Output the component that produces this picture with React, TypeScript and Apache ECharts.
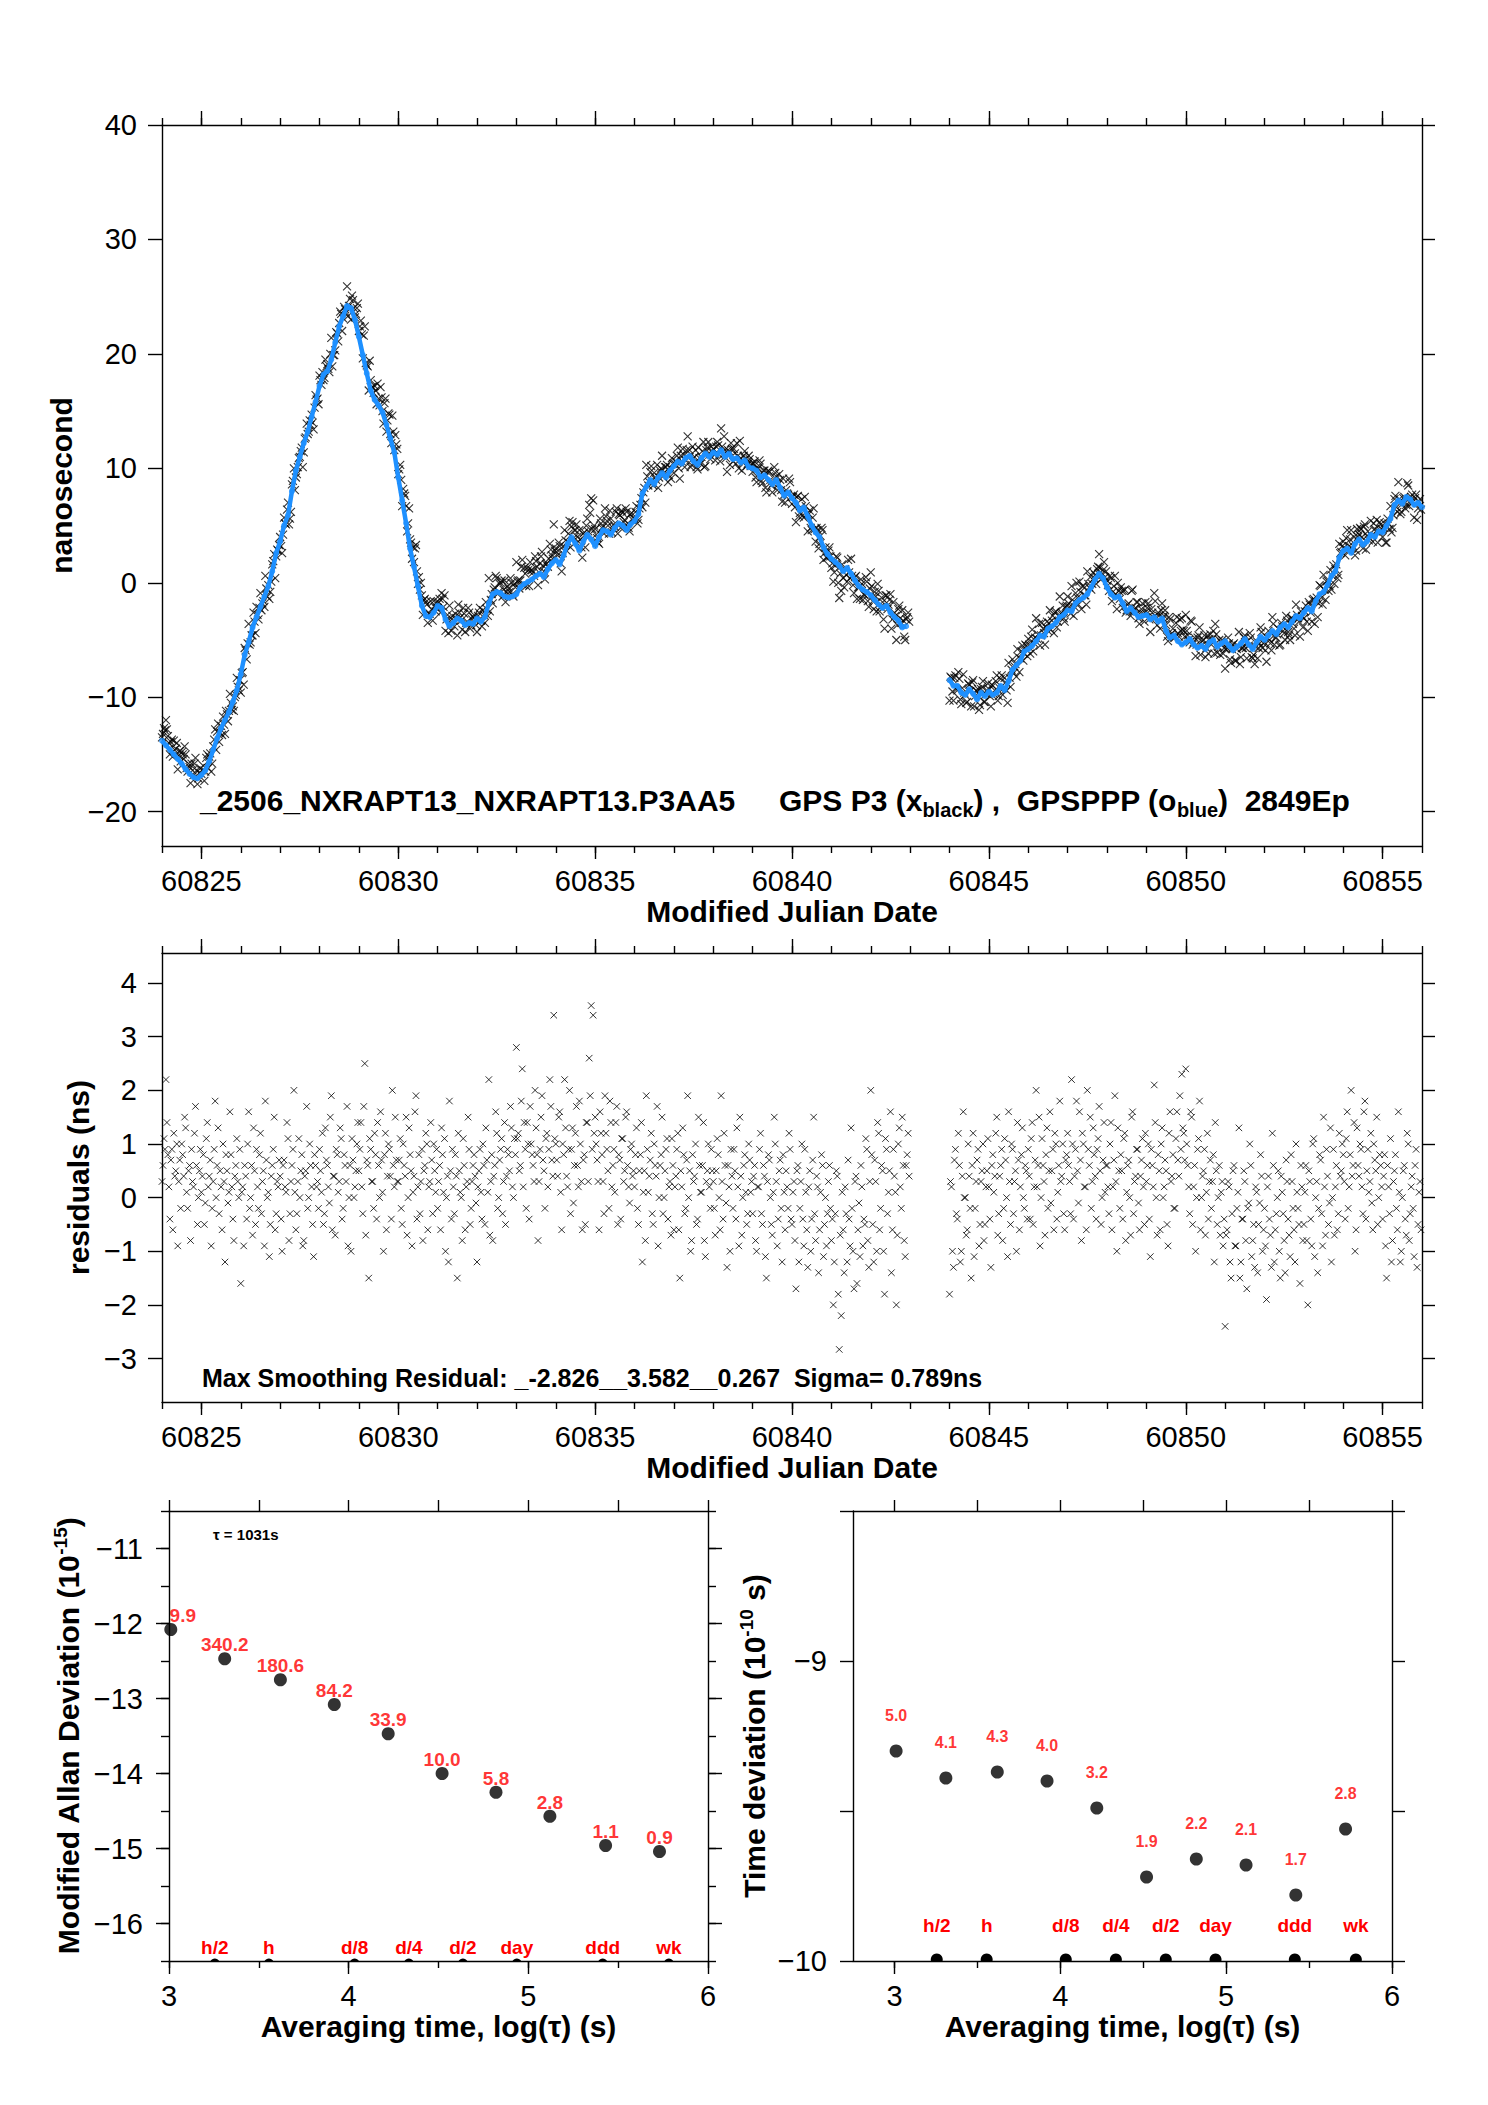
import React, { useEffect, useRef } from "react";
import * as echarts from "echarts";

const FONT = "'Liberation Sans', Arial, Helvetica, sans-serif";

// ---------------- DATA ----------------
const T0 = 60824.0;
const TRACE_STEP = 0.1; // days between GPSPPP samples
const RESID_STEP = 0.05; // days between P3 samples of one residual set
const RESID_B_SHIFT = 0.025; // second residual set sits half a step later

// GPSPPP (blue) time series, ns, one value every 0.1 day from MJD 60824.0
const BLUE_TRACE: (number | null)[] = [
  -13.8, -14.2, -14.6, -15.0, -15.4, -15.8, -16.3, -16.7, -17.0, -17.1,
  -16.8, -16.4, -15.6, -14.6, -13.6, -12.7, -12.0, -11.3, -10.4, -9.4,
  -8.0, -6.3, -5.2, -3.9, -3.0, -2.1, -1.2, -0.3, 1.0, 2.6,
  3.6, 5.0, 5.9, 8.0, 9.8, 11.0, 12.2, 13.2, 14.5, 15.8,
  17.2, 18.2, 18.5, 19.5, 21.0, 22.4, 23.3, 24.2, 24.0, 23.0,
  21.5, 19.9, 18.3, 16.8, 16.0, 15.5, 14.9, 13.8, 12.6, 11.4,
  9.2, 7.2, 5.2, 3.0, 1.4, -0.3, -2.0, -2.9, -3.0, -2.6,
  -2.0, -2.2, -3.2, -3.8, -3.5, -3.1, -3.3, -3.7, -3.5, -3.6,
  -3.1, -3.4, -3.0, -1.8, -1.0, -0.8, -0.9, -1.2, -1.3, -1.2,
  -1.0, -0.4, -0.1, 0.1, 0.3, 0.6, 0.8, 0.5, 1.2, 1.7,
  2.0, 1.6, 2.4, 3.4, 4.0, 3.4, 2.8, 3.6, 4.2, 3.8,
  3.2, 4.0, 4.6, 4.5, 4.2, 4.8, 5.2, 5.0, 4.6, 5.1,
  5.4, 6.0, 7.8, 8.4, 9.0, 8.6, 9.2, 9.6, 9.2, 9.8,
  10.2, 10.6, 10.4, 10.9, 11.1, 10.6, 10.3, 10.9, 11.3, 11.0,
  11.4, 11.2, 11.6, 11.0, 11.3, 10.8, 10.9, 10.5, 10.7, 10.1,
  10.0, 9.8, 9.2, 9.4, 9.0, 8.6, 9.0, 8.3, 7.6, 7.9,
  7.4, 7.0, 6.3, 6.6, 5.8, 5.0, 4.4, 4.0, 3.1, 2.5,
  2.1, 1.8, 1.5, 1.0, 1.3, 0.8, 0.2, -0.3, -0.6, -0.8,
  -1.1, -1.5, -1.9, -2.2, -2.0, -2.6, -3.0, -3.3, -3.9, -3.8,
  null, null, null, null, null, null, null, null, null, null,
  -8.5, -9.0, -9.0, -9.6, -9.8, -9.3, -9.7, -10.2, -9.6, -9.9,
  -9.5, -9.8, -9.6, -9.0, -9.4, -8.6, -7.6, -7.2, -6.8, -6.0,
  -5.8, -5.5, -5.1, -4.6, -4.7, -4.0, -3.8, -3.5, -3.0, -2.8,
  -2.4, -2.5, -1.8, -1.5, -1.3, -1.0, -0.4, 0.3, 0.8, 0.4,
  -0.4, -1.0, -1.3, -1.2, -1.8, -2.5, -2.2, -2.6, -3.0, -2.9,
  -2.8, -3.2, -3.0, -3.4, -3.1, -4.2, -4.8, -4.6, -5.1, -5.4,
  -5.2, -4.9, -5.4, -5.7, -5.5, -5.8, -5.2, -5.0, -5.6, -5.3,
  -5.1, -5.5, -5.9, -5.6, -5.3, -4.9, -5.4, -5.8, -5.2, -4.7,
  -5.0, -4.6, -4.2, -4.5, -3.9, -3.6, -3.9, -3.4, -2.9, -3.1,
  -2.6, -2.2, -2.5, -1.6, -1.0, -0.8, -0.2, 0.6, 1.0, 2.2,
  2.8, 3.0, 2.6, 3.4, 3.8, 3.3, 3.6, 4.2, 4.0, 4.5,
  4.4, 5.0, 5.6, 6.8, 7.2, 6.9, 7.5, 7.3, 6.8, 7.0,
  6.6,
];

// Smoothing residuals of GPS P3 (ns), set A: every 0.05 day from MJD 60824.0 (one row per day)
const RESIDUALS: (number | null)[] = [
  0.3, 1.1, 2.2, 0.8, -0.4, 0.9, 1.2, 0.5, -0.9, 0.7, 1.0, 0.4, 1.3, -0.2, 0.6, 0.9, 0.2, 1.7, -0.5, 0.5,
  0.1, 0.8, -0.1, 1.4, 0.4, -0.9, 0.3, 1.8, 0.6, -0.3, 0.2, 1.0, -1.2, 0.5, 0.1, 0.8, -0.4, 0.4, 1.1, 0.0,
  -1.6, 0.2, 0.6, -0.4, 1.6, 0.0, -0.7, 0.5, 0.9, -0.2, 1.2, 0.3, -0.9, 0.7, 0.1, -0.5, 0.6, 1.5, -0.3, 0.2,
  0.4, -1.0, 0.7, 0.1, 1.1, -0.3, 0.6, 2.0, -0.6, 0.3, 0.0, 0.8, -0.8, 0.5, -0.2, 1.0, 0.2, -1.1, 0.6, 0.3,
  0.9, 0.1, -0.5, 1.3, 0.6, -0.1, 1.9, 0.4, -0.7, 0.8, 0.3, 1.1, -0.2, 0.6, 1.7, 0.0, -1.0, 0.7, 0.2, 1.0,
  0.5, 1.4, -0.3, 2.5, 0.7, -1.5, 0.9, 0.3, 1.2, -0.4, 0.6, 1.6, 0.1, 0.8, -0.6, 1.0, 0.4, 2.0, 0.2, 0.7,
  0.3, 1.1, -0.5, 0.6, 1.5, 0.0, 0.8, -0.9, 0.4, 1.9, 0.2, -0.3, 0.9, 0.5, 1.2, -0.6, 0.3, 0.7, 1.0, 0.1,
  -0.2, 0.6, 1.3, 0.1, -1.0, 0.4, 1.8, -0.4, 0.2, 0.8, -1.5, 0.5, 0.0, 1.1, -0.6, 0.3, 0.9, -0.2, 0.6, 0.4,
  -1.2, 0.5, 0.1, 1.0, -0.5, 0.7, 2.2, 0.3, -0.8, 0.6, 1.2, 0.0, 0.9, -0.3, 1.4, 0.4, 0.8, 1.7, 0.2, 1.1,
  2.8, 1.2, 0.6, 2.4, 1.4, -0.2, 1.0, 1.7, 0.8, 0.3, 1.3, -0.8, 0.9, 1.9, 0.5, 1.1, 0.2, 2.2, 0.7, 3.4,
  1.0, 0.4, 1.6, -0.6, 0.8, 1.3, 0.2, 2.0, 0.9, -0.1, 1.2, 0.6, 1.8, 0.3, 0.7, -0.5, 1.4, 2.6, 3.58, 3.4,
  1.5, 0.7, -0.6, 1.2, 0.3, 1.9, 0.9, -0.2, 1.4, 0.6, 0.1, 1.7, 0.8, -0.4, 1.1, 0.5, 1.6, 0.2, 0.9, 0.4,
  0.2, 1.3, -0.5, 0.8, -1.2, 0.5, 1.9, 0.1, 0.7, -0.3, 1.0, 0.4, -0.9, 0.6, 1.5, 0.0, 0.9, -0.4, 0.3, 1.1,
  -0.6, 0.4, 1.2, -1.5, 0.2, 0.8, -0.2, 1.9, 0.5, -0.8, 0.3, 1.0, -0.4, 0.6, 0.1, 1.4, -1.1, 0.5, 0.2, 0.9,
  0.3, -0.7, 1.1, 0.0, 1.9, -0.4, 0.6, -1.3, 0.2, 0.9, -0.2, 0.5, 1.3, -0.9, 0.4, 0.0, 0.8, -0.5, 1.0, 0.1,
  -0.3, 0.6, -1.0, 0.2, 1.2, -0.5, 0.4, -1.5, 0.8, 0.0, -0.7, 1.5, 0.3, -0.4, 0.7, -1.2, 0.1, 0.5, -0.2, 0.9,
  -0.5, 0.3, -1.7, 0.6, -0.2, 1.0, -0.9, 0.1, -1.3, 0.5, -0.4, 1.5, -0.8, 0.2, -0.6, 0.8, -1.1, 0.0, -0.3, 0.6,
  -0.8, -2.0, -0.3, 0.4, -2.83, -2.2, -0.6, 0.2, -1.2, -0.4, 1.3, -1.0, 0.3, -1.6, -0.1, 0.6, -0.9, -0.5, 0.9, -1.3,
  2.0, -0.5, 0.7, -1.0, 1.2, -0.2, 0.5, -1.8, 0.9, 0.1, 1.6, -0.6, 0.4, -2.0, 1.0, 0.2, 1.5, -0.8, 0.6, 1.2,
  null, null, null, null, null, null, null, null, null, null, null, null, null, null, null, null, null, null, null, null,
  -1.8, 0.2, -1.3, 0.9, -0.4, 0.6, -1.0, 1.6, 0.0, -0.6, 0.4, -1.5, 1.2, -0.2, 0.7, -0.9, 0.3, 1.0, -0.5, 0.5,
  0.2, -1.3, 0.8, 0.4, 1.5, -0.3, 0.6, -0.8, 1.1, 0.0, 1.6, -0.5, 0.9, 0.3, -1.0, 0.7, 0.2, 1.3, -0.2, 0.5,
  0.9, -0.4, 1.4, 0.2, 2.0, 0.6, -0.9, 1.1, 0.3, 0.8, -0.2, 1.6, 0.5, -0.6, 1.0, 0.1, 1.8, 0.4, -0.3, 0.7,
  1.2, 0.3, 2.2, -0.4, 0.9, 0.5, 1.6, -0.8, 1.0, 0.2, 2.0, 0.6, -0.2, 1.3, 0.4, 0.9, 1.7, -0.5, 0.7, 0.1,
  0.6, -0.3, 1.4, 0.2, 1.9, -1.0, 0.5, 0.8, -0.4, 1.2, 0.1, 0.7, -0.7, 1.6, 0.3, 0.9, -0.1, 0.4, 1.1, -0.5,
  0.3, 1.0, -1.1, 0.6, 2.1, 0.0, 0.8, -0.6, 1.3, 0.2, 0.5, -0.9, 1.6, 0.4, -0.2, 1.1, 0.7, 1.9, 2.3, 1.2,
  2.4, 0.6, -0.3, 1.5, 0.2, -1.0, 0.9, 1.8, 0.0, 0.5, -0.7, 1.2, 0.3, -0.2, 0.8, 1.4, -0.5, 0.6, 0.1, -0.9,
  -2.4, -0.6, 0.2, -1.5, 0.5, -0.9, -0.2, 1.3, -1.2, -0.4, 0.3, -1.7, -0.1, 0.6, -0.8, -1.3, 0.1, -0.5, 0.8, -1.0,
  -0.2, -1.9, 0.4, -0.7, 1.2, -1.2, -0.3, 0.5, -1.5, 0.1, -0.8, 0.7, -0.4, -1.1, 0.3, -0.6, 1.0, -0.2, -1.6, 0.2,
  -0.5, 0.6, -2.0, 0.3, -0.9, 1.1, 0.0, -1.4, 0.8, -0.3, 1.5, -0.7, 0.4, -0.1, -1.2, 0.9, 0.2, -0.6, 1.2, 0.5,
  0.8, -0.4, 1.6, 0.2, 2.0, 0.6, -1.0, 1.3, 0.4, 0.9, -0.3, 1.8, 0.5, 0.1, 1.2, -0.6, 0.7, 1.5, 0.0, 0.6,
  -0.4, 0.8, -1.5, 0.2, 1.1, -0.8, 0.5, -0.2, 1.6, -1.2, 0.0, 0.6, -0.7, 1.0, -0.3, 0.4, -1.1, 0.9, -0.5, 0.3,
];

// Set B: every 0.05 day from MJD 60824.025 (one row per day)
const RESIDUALS_B: (number | null)[] = [
  0.6, 0.9, 1.4, 0.2, 0.7, -0.6, 0.4, 1.0, 0.3, -0.2, 0.8, 1.5, 0.1, 0.5, -0.8, 0.3, 1.2, 0.6, 0.0, 0.9,
  0.4, -0.5, 1.1, 0.2, 0.7, -0.2, 0.9, 0.0, 1.3, 0.5, -0.6, 0.3, 0.8, -0.1, 1.6, 0.2, -0.8, 0.6, 0.3, 0.9,
  0.1, -0.9, 0.4, 1.0, -0.2, 0.6, 1.3, -0.5, 0.2, 0.8, -0.3, 0.5, 1.8, 0.0, -1.1, 0.4, 0.9, -0.6, 0.3, 0.7,
  -0.4, 0.6, 0.2, 1.4, -0.8, 0.3, 0.9, 0.1, -0.3, 1.1, 0.5, -0.9, 0.4, 1.7, 0.0, 0.6, -0.5, 0.8, 0.2, -0.2,
  0.5, 1.2, -0.3, 0.7, 0.2, 1.5, -0.6, 0.4, 0.9, 0.1, 1.3, -0.4, 0.8, 0.3, -0.9, 0.6, 1.1, 0.0, 0.5, 1.4,
  0.9, 0.2, 1.7, -0.7, 0.6, 1.1, 0.3, -0.2, 0.8, 1.4, 0.0, 0.7, -1.0, 1.2, 0.4, 0.9, -0.4, 0.6, 1.5, 0.3,
  0.7, -0.2, 1.0, 0.4, -0.7, 1.3, 0.5, 0.1, 1.6, -0.4, 0.8, 0.3, -0.8, 0.6, 1.0, 0.2, 1.4, -0.3, 0.5, 0.9,
  0.3, -0.6, 0.8, 1.1, 0.0, -1.2, 0.5, 0.9, -0.3, 0.4, 1.2, 0.1, -0.8, 0.6, 0.2, 1.5, -0.5, 0.3, 0.8, -0.1,
  0.2, 0.9, -0.4, 0.6, 1.3, 0.1, -0.7, 0.8, 0.4, 1.6, -0.2, 0.7, 1.1, 0.3, -0.5, 0.9, 0.5, 1.3, 0.0, 0.8,
  1.1, 0.5, 1.8, 0.2, 0.9, 1.4, -0.4, 1.0, 0.6, 2.0, 0.8, 0.3, 1.5, 0.7, -0.2, 1.2, 0.9, 1.7, 0.4, 1.1,
  0.7, 1.5, 0.1, 1.0, 2.2, 0.4, 0.9, -0.3, 1.3, 0.6, 1.7, 0.2, 1.0, -0.6, 0.8, 1.4, 0.3, 1.9, 0.9, 1.2,
  1.0, 0.3, 1.6, 0.8, -0.3, 1.2, 0.5, 1.8, 0.2, 0.9, 1.4, -0.5, 0.7, 1.1, 0.3, 1.5, 0.6, -0.1, 1.0, 0.5,
  0.8, -0.2, 0.5, 1.4, 0.1, -0.8, 0.9, 0.4, 1.2, -0.5, 0.6, 1.7, 0.0, 0.8, -0.3, 0.5, 1.1, 0.2, -0.7, 0.6,
  0.2, 0.9, -0.6, 0.5, 1.3, -0.3, 0.7, 0.0, -1.0, 0.8, 0.4, -0.5, 1.5, 0.1, 0.6, -0.8, 0.3, 1.0, -0.2, 0.5,
  -0.2, 0.5, 0.8, -0.6, 0.3, 1.2, -0.1, 0.6, -1.0, 0.4, 0.9, -0.4, 0.2, 1.5, -0.7, 0.6, 0.1, -0.3, 0.7, 0.3,
  0.4, -0.8, 0.2, 0.9, -0.3, 0.6, -1.1, 0.3, 0.7, -0.5, 0.1, 1.0, -0.9, 0.5, -0.2, 0.8, -0.6, 0.2, 1.2, -0.4,
  0.1, -0.8, 0.5, -1.2, 0.3, -0.4, 0.9, -0.6, 0.2, -1.0, 0.7, -0.3, 0.4, -1.4, 0.1, 0.6, -0.5, -0.9, 0.3, -0.2,
  -0.4, -1.2, 0.5, -1.8, -0.7, 0.1, -1.4, -0.3, 0.7, -0.9, -0.2, -1.7, 0.4, -0.6, -1.1, 0.2, -0.4, 1.1, -0.8, 0.3,
  0.8, -1.2, 0.3, 1.4, -0.6, 0.6, -1.0, 1.1, -0.3, 0.5, -1.4, 0.9, 0.1, -0.7, 1.3, -0.2, 0.6, -1.1, 0.8, 0.4,
  null, null, null, null, null, null, null, null, null, null, null, null, null, null, null, null, null, null, null, null,
  0.3, -1.0, 0.7, -0.3, 1.2, -1.2, 0.4, 0.0, -0.7, 1.0, -0.2, 0.6, -1.1, 0.3, 0.9, -0.5, 0.5, -0.8, 0.2, 1.1,
  -0.4, 0.6, 0.1, 1.2, -0.7, 0.4, 0.9, -0.2, 0.7, -1.1, 0.3, 1.0, -0.3, 0.5, 1.4, -0.6, 0.8, 0.0, 0.6, -0.4,
  0.4, 1.1, -0.5, 0.7, 0.2, 1.5, 0.0, 0.6, -0.7, 1.3, 0.5, -0.1, 0.9, 1.2, -0.4, 0.6, 0.3, 1.0, -0.6, 0.8,
  0.6, -0.3, 1.0, 0.4, 1.8, -0.1, 0.7, 1.2, 0.2, -0.6, 0.9, 1.5, 0.3, 0.8, -0.4, 1.1, 0.5, 0.0, 1.4, 0.6,
  0.2, 1.0, -0.6, 0.7, 0.3, 1.3, -0.2, 0.5, 1.1, -0.8, 0.6, 0.0, 1.5, -0.3, 0.4, 0.9, -0.6, 0.7, 0.2, 1.2,
  0.6, -0.4, 0.9, 0.2, 1.4, -0.7, 0.5, 1.0, 0.0, 0.7, -0.5, 1.2, 0.3, 0.8, -0.2, 1.6, 0.4, 0.9, 1.3, 0.7,
  1.0, 0.2, 1.6, -0.5, 0.6, 0.0, 1.1, -0.6, 0.4, 0.9, 0.1, -0.4, 0.7, 0.3, -1.2, 0.5, 0.0, -0.7, 0.3, -0.4,
  -0.7, 0.3, -1.2, -0.3, 0.6, -0.9, 0.1, -1.5, -0.4, 0.5, -0.8, -0.2, 1.0, -1.1, -0.5, 0.2, -1.4, -0.1, 0.4, -0.6,
  -0.9, 0.2, -0.4, -1.3, 0.6, -0.6, 0.0, -1.0, 0.4, -0.3, -1.4, 0.3, -0.7, 0.8, -0.2, -1.2, 0.1, -0.5, 0.6, -0.8,
  0.1, -0.8, 0.5, -0.4, 1.0, -1.1, 0.3, -0.2, 0.7, -0.9, 0.2, 0.9, -0.5, 1.3, 0.0, -0.7, 0.6, -0.3, 0.4, 1.0,
  0.3, 1.1, -0.2, 0.8, 0.4, 1.4, -0.6, 0.6, 1.0, 0.2, 1.6, -0.4, 0.9, 0.3, -0.1, 1.0, 0.5, -0.5, 0.8, 0.2,
  0.4, -0.9, 0.6, -0.3, -1.2, 0.3, 0.8, -0.6, 0.1, -1.0, 0.5, -0.4, 1.2, -0.8, 0.2, -0.2, 0.6, -1.3, 0.1, -0.6,
];

// Modified Allan deviation: log10(tau) and log10(mod ADEV)
const ADEV_X = [3.01, 3.31, 3.62, 3.92, 4.22, 4.52, 4.82, 5.12, 5.43, 5.73];
const ADEV_Y = [-12.08, -12.47, -12.75, -13.08, -13.47, -14.0, -14.25, -14.57, -14.96, -15.04];
const ADEV_LABELS = ["9.9", "340.2", "180.6", "84.2", "33.9", "10.0", "5.8", "2.8", "1.1", "0.9"];

// Time deviation
const TDEV_X = [3.01, 3.31, 3.62, 3.92, 4.22, 4.52, 4.82, 5.12, 5.42, 5.72];
const TDEV_Y = [-9.3, -9.39, -9.37, -9.4, -9.49, -9.72, -9.66, -9.68, -9.78, -9.56];
const TDEV_LABELS = ["5.0", "4.1", "4.3", "4.0", "3.2", "1.9", "2.2", "2.1", "1.7", "2.8"];

// reference averaging-time markers
const MARK_X = [3.255, 3.556, 4.033, 4.335, 4.636, 4.936, 5.414, 5.782];
const MARK_LABELS = ["h/2", "h", "d/8", "d/4", "d/2", "day", "ddd", "wk"];

// tick labels
const MJD_LABELS = [60825, 60830, 60835, 60840, 60845, 60850, 60855];
const NS_LABELS = [-20, -10, 0, 10, 20, 30, 40];
const RES_LABELS = [-3, -2, -1, 0, 1, 2, 3, 4];
const LOGTAU_LABELS = [3, 4, 5, 6];
const ADEV_TICK_LABELS = [-16, -15, -14, -13, -12, -11];
const TDEV_TICK_LABELS = [-10, -9];

// ---------------- helpers ----------------
const fmt = (v: number) => (v < 0 ? "\u2212" + String(Math.abs(v)) : String(v));

function range(a: number, b: number, step: number) {
  const out: number[] = [];
  for (let v = a; v <= b + 1e-9; v += step) out.push(Math.round(v * 1000) / 1000);
  return out;
}

const LINE = { color: "#000", width: 1.4 };

const nameStyle = { fontSize: 30, fontWeight: "bold", fontFamily: FONT, color: "#000" };
const richName = {
  ...nameStyle,
  rich: {
    a: { ...nameStyle, lineHeight: 34 },
    s: { fontSize: 19, fontWeight: "bold", fontFamily: FONT, color: "#000", verticalAlign: "top", lineHeight: 19 },
  },
};

function axis(
  gridIndex: number,
  position: string,
  min: number,
  max: number,
  ticks: number[],
  tickLen: number,
  extra: any = {}
) {
  const a: any = {
    type: "value",
    gridIndex,
    position,
    min,
    max,
    axisLine: { show: !!extra.line, onZero: false, lineStyle: LINE },
    axisTick: { show: true, inside: false, customValues: ticks, length: tickLen, lineStyle: LINE },
    axisLabel: extra.labels
      ? {
          show: true,
          customValues: extra.labels,
          formatter: fmt,
          margin: extra.margin,
          color: "#000",
          fontSize: 29,
          fontFamily: FONT,
          showMinLabel: true,
          showMaxLabel: true,
        }
      : { show: false },
    splitLine: { show: false },
    minorTick: { show: false },
  };
  if (extra.name) {
    a.name = extra.name;
    a.nameLocation = "middle";
    a.nameGap = extra.nameGap;
    a.nameTextStyle = extra.nameTextStyle || nameStyle;
  }
  return a;
}

const XSYM = "path://M0,0L10,10M10,0L0,10";

function markerSeries(xi: number, yi: number, yVal: number, r: number, labelOff: number) {
  return {
    type: "custom",
    xAxisIndex: xi,
    yAxisIndex: yi,
    clip: true,
    silent: true,
    z: 5,
    data: MARK_X.map((x) => [x, yVal]),
    renderItem: (params: any, api: any) => {
      const p = api.coord([api.value(0), api.value(1)]);
      return {
        type: "group",
        children: [
          { type: "circle", shape: { cx: p[0], cy: p[1], r }, style: { fill: "#000" } },
          {
            type: "text",
            x: p[0],
            y: p[1] - labelOff,
            style: {
              text: MARK_LABELS[params.dataIndex],
              fill: "#ff0000",
              fontSize: 19,
              fontWeight: "bold",
              fontFamily: FONT,
              align: "center",
              verticalAlign: "middle",
            },
          },
        ],
      };
    },
  };
}

function buildOption() {
  const mjdMinor = range(60824, 60856, 1);
  const halfLog = range(3, 6, 0.5);

  const xAxis: any[] = [];
  const yAxis: any[] = [];

  // grid 0: time series
  xAxis.push(
    axis(0, "bottom", 60824, 60856, MJD_LABELS, 13, {
      line: true,
      labels: MJD_LABELS,
      margin: 20,
      name: "Modified Julian Date",
      nameGap: 50,
    })
  ); // 0
  xAxis.push(axis(0, "bottom", 60824, 60856, mjdMinor, 7)); // 1
  xAxis.push(axis(0, "top", 60824, 60856, MJD_LABELS, 14, { line: true })); // 2
  xAxis.push(axis(0, "top", 60824, 60856, mjdMinor, 7)); // 3
  yAxis.push(
    axis(0, "left", -23, 40, NS_LABELS, 14, {
      line: true,
      labels: NS_LABELS,
      margin: 25,
      name: "nanosecond",
      nameGap: 80,
    })
  ); // 0
  yAxis.push(axis(0, "right", -23, 40, NS_LABELS, 13, { line: true })); // 1

  // grid 1: residuals
  xAxis.push(
    axis(1, "bottom", 60824, 60856, MJD_LABELS, 13, {
      line: true,
      labels: MJD_LABELS,
      margin: 20,
      name: "Modified Julian Date",
      nameGap: 50,
    })
  ); // 4
  xAxis.push(axis(1, "bottom", 60824, 60856, mjdMinor, 7)); // 5
  xAxis.push(axis(1, "top", 60824, 60856, MJD_LABELS, 14, { line: true })); // 6
  xAxis.push(axis(1, "top", 60824, 60856, mjdMinor, 7)); // 7
  yAxis.push(
    axis(1, "left", -3.81, 4.56, RES_LABELS, 14, {
      line: true,
      labels: RES_LABELS,
      margin: 25,
      name: "residuals (ns)",
      nameGap: 64,
    })
  ); // 2
  yAxis.push(axis(1, "right", -3.81, 4.56, RES_LABELS, 13, { line: true })); // 3

  // grid 2: modified Allan deviation
  xAxis.push(
    axis(2, "bottom", 3, 6, LOGTAU_LABELS, 13, {
      line: true,
      labels: LOGTAU_LABELS,
      margin: 20,
      name: "Averaging time, log(\u03c4) (s)",
      nameGap: 50,
    })
  ); // 8
  xAxis.push(axis(2, "bottom", 3, 6, halfLog, 7)); // 9
  xAxis.push(axis(2, "top", 3, 6, halfLog, 11, { line: true })); // 10
  const adevHalf = range(-16.5, -10.5, 0.5);
  yAxis.push(
    axis(2, "left", -16.5, -10.5, ADEV_TICK_LABELS, 13, {
      line: true,
      labels: ADEV_TICK_LABELS,
      margin: 26,
      name: "{a|Modified Allan Deviation (10}{s|-15}{a|)}",
      nameGap: 84,
      nameTextStyle: richName,
    })
  ); // 4
  yAxis.push(axis(2, "left", -16.5, -10.5, adevHalf, 8)); // 5
  yAxis.push(axis(2, "right", -16.5, -10.5, ADEV_TICK_LABELS, 14, { line: true })); // 6
  yAxis.push(axis(2, "right", -16.5, -10.5, adevHalf, 8)); // 7

  // grid 3: time deviation
  xAxis.push(
    axis(3, "bottom", 2.75, 6, LOGTAU_LABELS, 13, {
      line: true,
      labels: LOGTAU_LABELS,
      margin: 20,
      name: "Averaging time, log(\u03c4) (s)",
      nameGap: 50,
    })
  ); // 11
  xAxis.push(axis(3, "bottom", 2.75, 6, halfLog, 7)); // 12
  xAxis.push(axis(3, "top", 2.75, 6, halfLog, 11, { line: true })); // 13
  const tdevHalf = range(-10, -8.5, 0.5);
  yAxis.push(
    axis(3, "left", -10, -8.5, tdevHalf, 13, {
      line: true,
      labels: TDEV_TICK_LABELS,
      margin: 26,
      name: "{a|Time deviation (10}{s|-10}{a| s)}",
      nameGap: 82,
      nameTextStyle: richName,
    })
  ); // 8
  yAxis.push(axis(3, "right", -10, -8.5, tdevHalf, 13, { line: true })); // 9

  // ---- series data
  const blackPts: number[][] = [];
  const residPts: number[][] = [];
  const addSet = (set: (number | null)[], shift: number) => {
    set.forEach((r, i) => {
      const base = BLUE_TRACE[Math.floor(i / 2)];
      if (r == null || base == null) return;
      const t = T0 + shift + i * RESID_STEP;
      residPts.push([t, r]);
      blackPts.push([t, base + r]);
    });
  };
  addSet(RESIDUALS, 0);
  addSet(RESIDUALS_B, RESID_B_SHIFT);

  const blueLine = BLUE_TRACE.map((v, i) => [T0 + i * TRACE_STEP, v == null ? "-" : v]);
  const blueDots = BLUE_TRACE.map((v, i) => (v == null ? null : [T0 + i * TRACE_STEP, v])).filter(
    (p) => p != null
  );

  const redLabel = (arr: string[], size: number, dy: number) => ({
    show: true,
    position: "inside",
    offset: [0, dy],
    formatter: (p: any) => arr[p.dataIndex],
    color: "#ff0000",
    fontSize: size,
    fontWeight: "bold",
    fontFamily: FONT,
  });

  const adevData: any[] = ADEV_X.map((x, i) =>
    i === 0 ? { value: [x, ADEV_Y[i]], label: { offset: [12, -14] } } : [x, ADEV_Y[i]]
  );
  const tdevData = TDEV_X.map((x, i) => [x, TDEV_Y[i]]);

  const series: any[] = [
    {
      type: "scatter",
      xAxisIndex: 0,
      yAxisIndex: 0,
      data: blackPts,
      symbol: XSYM,
      symbolSize: 8,
      itemStyle: { color: "rgba(0,0,0,0)", borderColor: "#000", borderWidth: 1.1 },
      silent: true,
      z: 2,
    },
    {
      type: "line",
      xAxisIndex: 0,
      yAxisIndex: 0,
      data: blueLine,
      symbol: "none",
      connectNulls: false,
      lineStyle: { color: "#1e90ff", width: 4.5 },
      silent: true,
      z: 3,
    },
    {
      type: "scatter",
      xAxisIndex: 0,
      yAxisIndex: 0,
      data: blueDots,
      symbol: "circle",
      symbolSize: 6,
      itemStyle: { color: "#1e90ff" },
      silent: true,
      z: 4,
    },
    {
      type: "scatter",
      xAxisIndex: 4,
      yAxisIndex: 2,
      data: residPts,
      symbol: XSYM,
      symbolSize: 6.5,
      itemStyle: { color: "rgba(0,0,0,0)", borderColor: "#000", borderWidth: 1 },
      silent: true,
    },
    {
      type: "scatter",
      xAxisIndex: 8,
      yAxisIndex: 4,
      data: adevData,
      symbol: "circle",
      symbolSize: 13,
      itemStyle: { color: "#000" },
      label: redLabel(ADEV_LABELS, 19, -14),
      silent: true,
      z: 5,
    },
    markerSeries(8, 4, -16.533, 5, 16),
    {
      type: "scatter",
      xAxisIndex: 11,
      yAxisIndex: 8,
      data: tdevData,
      symbol: "circle",
      symbolSize: 13,
      itemStyle: { color: "#000" },
      label: redLabel(TDEV_LABELS, 16, -36),
      silent: true,
      z: 5,
    },
    markerSeries(11, 8, -9.995, 6, 34.4),
  ];

  const subRich = {
    s: { fontSize: 20, fontWeight: "bold", fontFamily: FONT, fill: "#000", verticalAlign: "bottom", lineHeight: 20 },
  };

  const graphic: any[] = [
    {
      type: "text",
      x: 200,
      y: 800,
      silent: true,
      style: {
        text: "_2506_NXRAPT13_NXRAPT13.P3AA5",
        fill: "#000",
        fontSize: 30,
        fontWeight: "bold",
        fontFamily: FONT,
        verticalAlign: "middle",
        align: "left",
      },
    },
    {
      type: "text",
      x: 779,
      y: 800,
      silent: true,
      style: {
        text: "GPS P3 (x{s|black}) ,  GPSPPP (o{s|blue})  2849Ep",
        fill: "#000",
        fontSize: 30,
        fontWeight: "bold",
        fontFamily: FONT,
        lineHeight: 40,
        verticalAlign: "middle",
        align: "left",
        rich: subRich,
      },
    },
    {
      type: "text",
      x: 202,
      y: 1378,
      silent: true,
      style: {
        text: "Max Smoothing Residual: _-2.826__3.582__0.267  Sigma= 0.789ns",
        fill: "#000",
        fontSize: 25,
        fontWeight: "bold",
        fontFamily: FONT,
        verticalAlign: "middle",
        align: "left",
      },
    },
    {
      type: "text",
      x: 213,
      y: 1534,
      silent: true,
      style: {
        text: "\u03c4 = 1031s",
        fill: "#000",
        fontSize: 15,
        fontWeight: "bold",
        fontFamily: FONT,
        verticalAlign: "middle",
        align: "left",
      },
    },
  ];

  return {
    animation: false,
    backgroundColor: "#fff",
    textStyle: { fontFamily: FONT },
    grid: [
      { left: 162, top: 125, width: 1260, height: 721, outerBoundsMode: "none", containLabel: false },
      { left: 162, top: 953, width: 1260, height: 449, outerBoundsMode: "none", containLabel: false },
      { left: 169, top: 1511, width: 539, height: 450, outerBoundsMode: "none", containLabel: false },
      { left: 853, top: 1511, width: 539, height: 450, outerBoundsMode: "none", containLabel: false },
    ],
    xAxis,
    yAxis,
    series,
    graphic,
  };
}

export default function App() {
  const ref = useRef<HTMLDivElement>(null);
  useEffect(() => {
    if (!ref.current) return;
    const chart = echarts.init(ref.current, null, { renderer: "svg" });
    chart.setOption(buildOption() as any);
    return () => chart.dispose();
  }, []);
  return (
    <div
      ref={ref}
      style={{ position: "absolute", left: 0, top: 0, width: 1488, height: 2105, background: "#fff" }}
    />
  );
}
